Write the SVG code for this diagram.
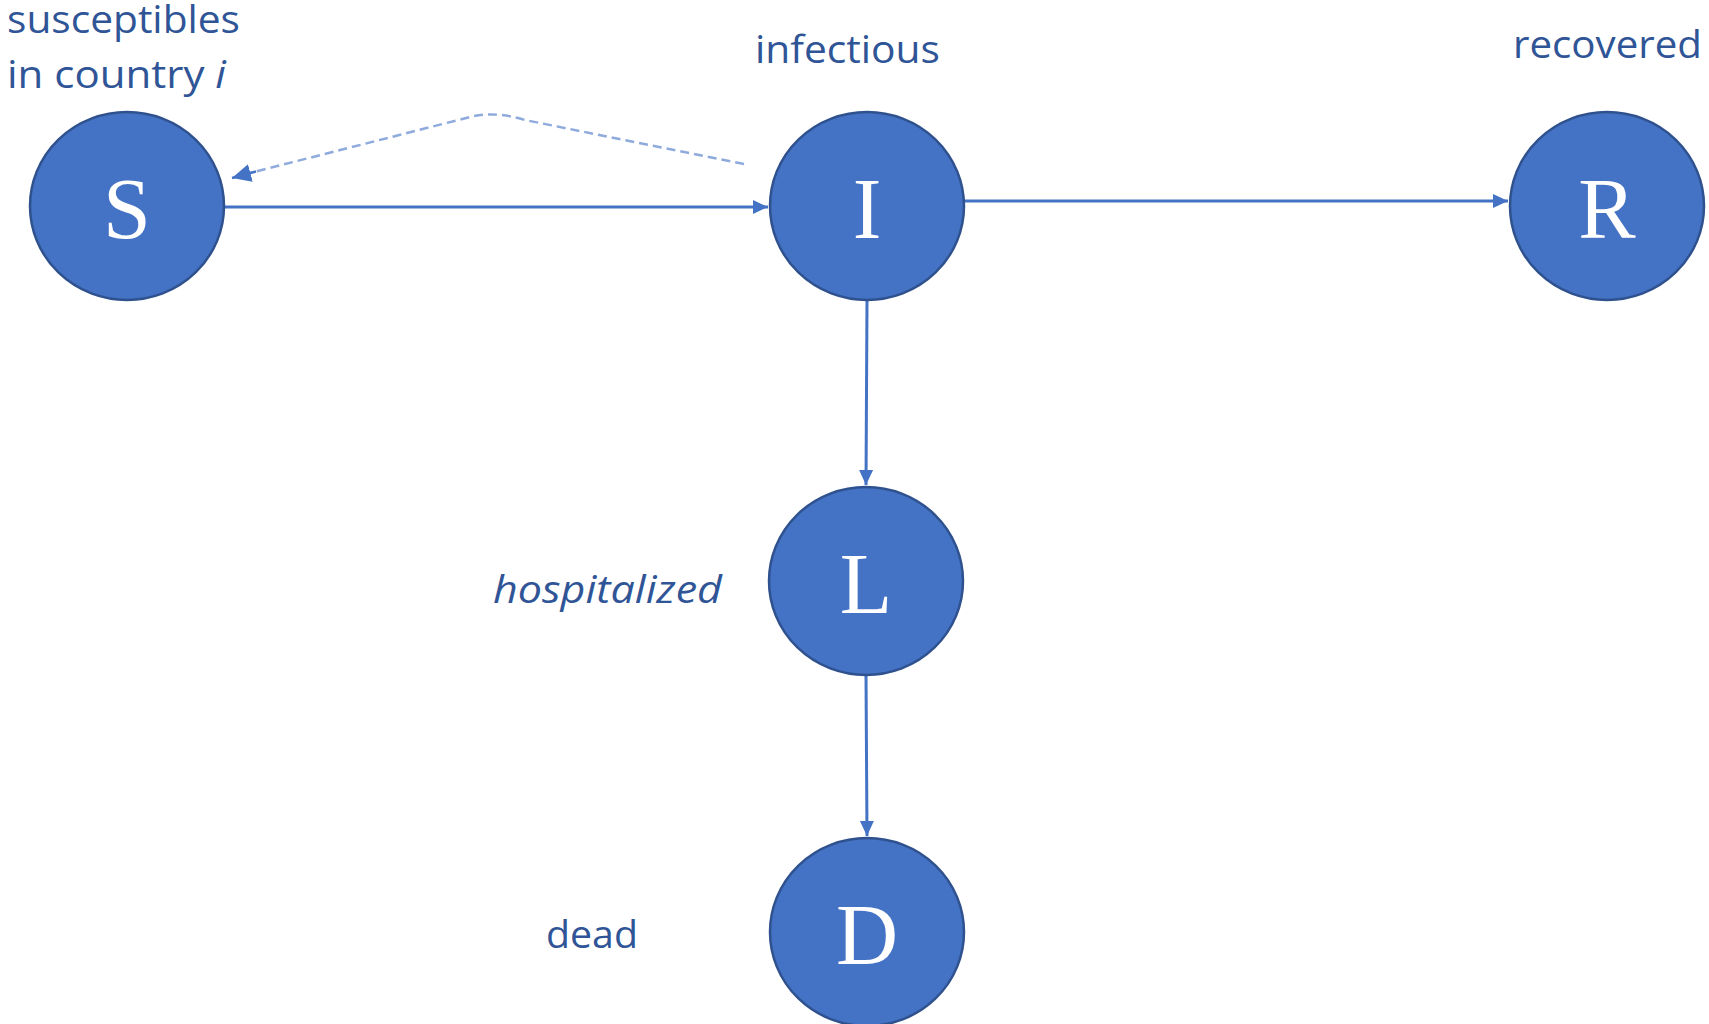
<svg xmlns="http://www.w3.org/2000/svg" width="1709" height="1024" viewBox="0 0 1709 1024">
<style>
.node ellipse{fill:#4472C4;stroke:#2F528F;stroke-width:2.5}
.node text{font-family:"Liberation Serif","DejaVu Serif",serif;font-size:86px;fill:#FFFFFF;text-anchor:middle}
.lbl{font-family:"Open Sans","Noto Sans",sans-serif;font-size:39px;fill:#2F5597}
.edge{stroke:#4472C4;stroke-width:3;fill:none}
.dash{stroke:#8FAADC;stroke-width:2.5;fill:none;stroke-dasharray:9 5}
</style>
<defs>
<marker id="ah" markerUnits="userSpaceOnUse" markerWidth="16" markerHeight="16" viewBox="0 0 16 16" refX="15" refY="8" orient="auto">
<path d="M0,1 L15,8 L0,15 Z" fill="#4472C4"/>
</marker>
<marker id="ah2" markerUnits="userSpaceOnUse" markerWidth="20" markerHeight="20" viewBox="0 0 20 20" refX="19" refY="10" orient="auto">
<path d="M0,1 L19,10 L0,19 Z" fill="#4472C4"/>
</marker>
</defs>
<g id="connectors">
<line class="edge" x1="224" y1="207" x2="768" y2="207" marker-end="url(#ah)"/>
<line class="edge" x1="964" y1="201" x2="1508" y2="201" marker-end="url(#ah)"/>
<line class="edge" x1="867" y1="300" x2="866" y2="485" marker-end="url(#ah)"/>
<line class="edge" x1="866" y1="674" x2="867" y2="836" marker-end="url(#ah)"/>
<path class="dash" d="M744,164 L525,120 C508,115 490,112 470,117 L250,173"/>
<line x1="256" y1="171.5" x2="232" y2="178" stroke="#4472C4" stroke-width="2.5" marker-end="url(#ah2)"/>
</g>
<g id="node-S" class="node"><ellipse cx="127" cy="206" rx="97" ry="94"/><text x="127" y="238">S</text></g>
<g id="node-I" class="node"><ellipse cx="867" cy="206" rx="97" ry="94"/><text x="867" y="238">I</text></g>
<g id="node-R" class="node"><ellipse cx="1607" cy="206" rx="97" ry="94"/><text x="1607" y="238">R</text></g>
<g id="node-L" class="node"><ellipse cx="866" cy="581" rx="97" ry="94"/><text x="866" y="613">L</text></g>
<g id="node-D" class="node"><ellipse cx="867" cy="932" rx="97" ry="94"/><text x="867" y="964">D</text></g>
<g id="labels">
<text class="lbl" x="7" y="33" textLength="233" lengthAdjust="spacingAndGlyphs">susceptibles</text>
<text class="lbl" x="7" y="88" textLength="219" lengthAdjust="spacingAndGlyphs">in country <tspan font-style="italic">i</tspan></text>
<text class="lbl" x="755" y="63" textLength="185" lengthAdjust="spacingAndGlyphs">infectious</text>
<text class="lbl" x="1513" y="58" textLength="189" lengthAdjust="spacingAndGlyphs">recovered</text>
<text class="lbl" x="493" y="603" font-style="italic" textLength="229" lengthAdjust="spacingAndGlyphs">hospitalized</text>
<text class="lbl" x="546" y="948" textLength="92" lengthAdjust="spacingAndGlyphs">dead</text>
</g>
</svg>
